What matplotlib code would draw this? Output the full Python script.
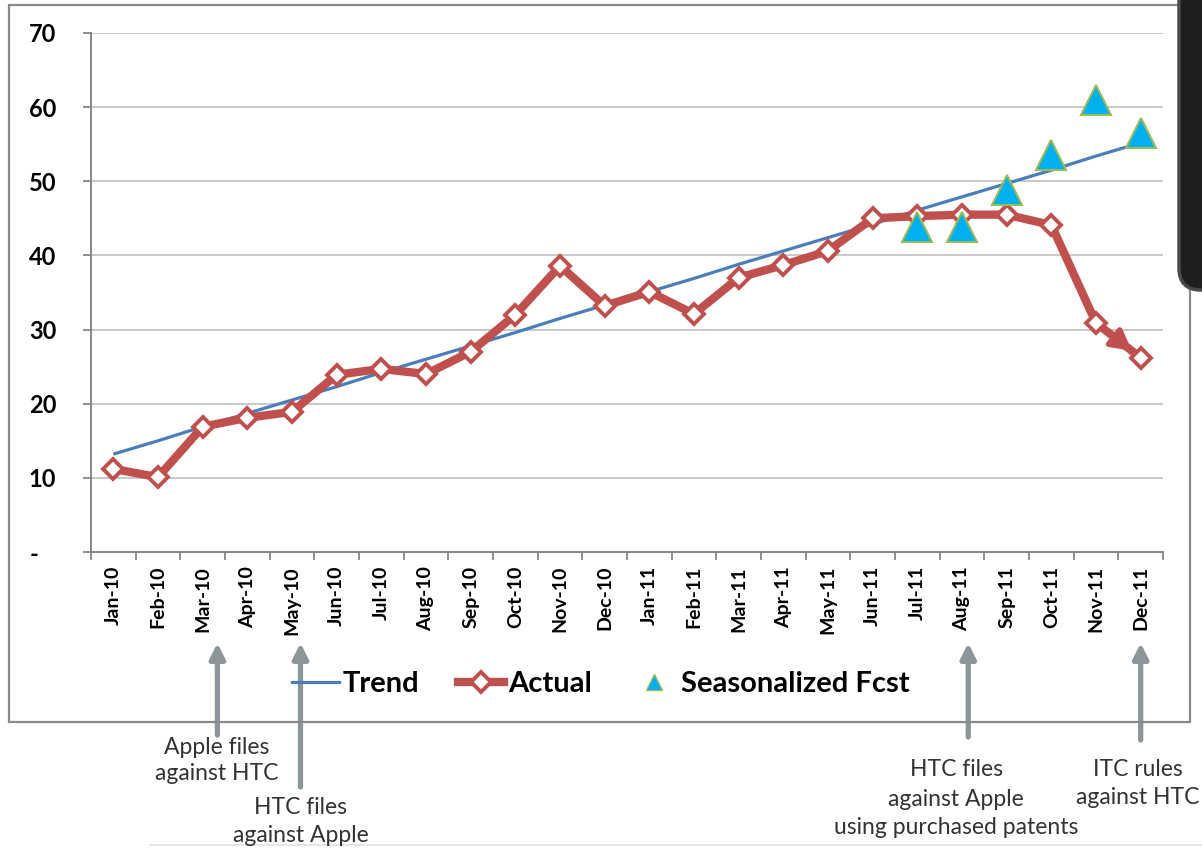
import numpy as np
import matplotlib
matplotlib.use("Agg")
import matplotlib.pyplot as plt
from matplotlib.lines import Line2D
from matplotlib.patches import Rectangle, FancyBboxPatch
import matplotlib.transforms as mtransforms

plt.rcParams['font.family'] = ['Lato', 'DejaVu Sans']

# ---------------- data ----------------
months = ['Jan-10', 'Feb-10', 'Mar-10', 'Apr-10', 'May-10', 'Jun-10', 'Jul-10',
          'Aug-10', 'Sep-10', 'Oct-10', 'Nov-10', 'Dec-10', 'Jan-11', 'Feb-11',
          'Mar-11', 'Apr-11', 'May-11', 'Jun-11', 'Jul-11', 'Aug-11', 'Sep-11',
          'Oct-11', 'Nov-11', 'Dec-11']
trend = [13.2, 15.0, 16.9, 18.7, 20.5, 22.3, 24.2, 26.0, 27.8, 29.6, 31.5, 33.3,
         35.1, 36.9, 38.8, 40.6, 42.4, 44.2, 46.1, 47.9, 49.7, 51.5, 53.4, 55.2]
actual = [11.2, 10.1, 16.9, 18.1, 18.9, 23.9, 24.7, 24.0, 27.0, 32.0, 38.6, 33.2,
          35.1, 32.1, 37.0, 38.7, 40.6, 45.0, 45.3, 45.5, 45.5, 44.1, 30.9, 26.2]
fcst_months = ['Jul-11', 'Aug-11', 'Sep-11', 'Oct-11', 'Nov-11', 'Dec-11']
fcst = [43.8, 43.8, 48.8, 53.5, 61.0, 56.5]
yticks = [0, 10, 20, 30, 40, 50, 60, 70]
ytick_labels = ['-   ', '10', '20', '30', '40', '50', '60', '70']
series_names = ['Trend', 'Actual', 'Seasonalized Fcst']
events = [('Mar-10', ['Apple files', 'against HTC']),
          ('May-10', ['HTC files', 'against Apple']),
          ('Aug-11', ['HTC files', 'against Apple', 'using purchased patents']),
          ('Dec-11', ['ITC rules', 'against HTC'])]

# ---------------- styles ----------------
BLUE = '#4A7EBB'
RED = '#C0504D'
TRI_FACE = '#00B0F0'
TRI_EDGE = '#9BBB59'
AXGRAY = '#868686'
GRID = '#c8c8c8'
ARROW = '#8C9698'
ANN_TXT = '#333333'

W, H = 1202, 849
fig = plt.figure(figsize=(W / 100, H / 100), dpi=100)


def px(x, y):
    return x / W, 1 - y / H


ax = fig.add_axes([91 / W, 1 - 552 / H, 1072 / W, 519 / H])
x = np.arange(len(months))
fx = [months.index(m) for m in fcst_months]

ax.plot(x, trend, color=BLUE, lw=2.3, zorder=2, solid_capstyle='butt')
ax.plot(x, actual, color=RED, lw=6, zorder=3, solid_joinstyle='round')
ax.annotate('', xy=(x[-1], actual[-1]), xytext=(x[-2], actual[-2]),
            arrowprops=dict(arrowstyle='-|>,head_length=1.2,head_width=0.65',
                            color=RED, lw=4, shrinkA=8, shrinkB=8,
                            mutation_scale=10),
            zorder=3.2)
ax.plot(x, actual, ls='none', marker='D', ms=10.5, mfc='white', mec=RED,
        mew=2.8, zorder=3.5)
ax.plot(fx, fcst, ls='none', marker='^', ms=21, mfc=TRI_FACE, mec=TRI_EDGE,
        mew=1.5, zorder=4)

ax.set_xlim(-0.5, len(months) - 0.5)
ax.set_ylim(0, 70)
ax.set_xticks(x)
ax.set_xticklabels(months, rotation=90, fontsize=14, fontweight='bold')
ax.set_xticks(np.arange(-0.5, len(months), 1), minor=True)
ax.tick_params(axis='x', which='major', length=0, pad=10)
ax.tick_params(axis='x', which='minor', length=6, color=AXGRAY, width=1.3,
               direction='out')
ax.set_yticks(yticks)
ax.set_yticklabels(ytick_labels, fontsize=17, fontweight='bold')
ax.tick_params(axis='y', length=6, color=AXGRAY, width=1.3, pad=19)
ax.grid(axis='y', color=GRID, lw=1.4)
ax.set_axisbelow(True)
for s in ['top', 'right']:
    ax.spines[s].set_visible(False)
for s in ['left', 'bottom']:
    ax.spines[s].set_color(AXGRAY)
    ax.spines[s].set_linewidth(1.4)

# legend
handles = [Line2D([], [], color=BLUE, lw=2.3),
           Line2D([], [], color=RED, lw=6, marker='D', ms=10, mfc='white',
                  mec=RED, mew=2.8),
           Line2D([], [], ls='none', marker='^', ms=12, mfc=TRI_FACE,
                  mec=TRI_EDGE, mew=1)]
fig.legend(handles, series_names, loc='center', bbox_to_anchor=px(601, 684),
           ncol=3, frameon=False,
           prop={'family': 'Lato', 'weight': 'bold', 'size': 21},
           handlelength=1.6, handletextpad=0.15, columnspacing=1.3)

# outer frame
fig.add_artist(Rectangle(px(9, 722), (1190 - 9) / W, (722 - 5) / H,
                         transform=fig.transFigure, fill=False, ec='#8a8a8a',
                         lw=1.6, zorder=1))

# event arrows and notes
blend = mtransforms.blended_transform_factory(ax.transData, fig.transFigure)
arrow_offsets = {'Mar-10': 0.33, 'May-10': 0.19, 'Aug-11': 0.14, 'Dec-11': 0.0}
arrow_tails = {'Mar-10': 735, 'May-10': 787, 'Aug-11': 737, 'Dec-11': 740}
text_pos = {'Mar-10': (217, [747, 773]),
            'May-10': (301, [808, 836]),
            'Aug-11': (956, [770, 799, 828]),
            'Dec-11': (1138, [769, 797])}
for m, lines in events:
    xd = months.index(m) + arrow_offsets[m]
    ax.annotate('', xy=(xd, 1 - 643 / H), xycoords=blend,
                xytext=(xd, 1 - arrow_tails[m] / H), textcoords=blend,
                arrowprops=dict(arrowstyle='-|>,head_length=0.9,head_width=0.45',
                                color=ARROW, lw=3.8, shrinkA=0, shrinkB=0,
                                mutation_scale=10),
                annotation_clip=False)
    cx, ys = text_pos[m]
    for line, yy in zip(lines, ys):
        fig.text(*px(cx, yy), line, ha='center', va='center', fontsize=16.5,
                 color=ANN_TXT, family='Lato')

# device edge at top right
fig.add_artist(FancyBboxPatch((11.79, (849 - 290) / 100), 1.0, 4.0,
                              boxstyle='round,pad=0,rounding_size=0.22',
                              transform=fig.dpi_scale_trans, fc='#1e1e1e',
                              ec='#4a4a4a', lw=2.5, zorder=5))
# faint line at bottom
fig.add_artist(Line2D([150 / W, 1.0], [1 - 845 / H, 1 - 845 / H],
                      transform=fig.transFigure, color='#e2e2e2', lw=1.2))

fig.savefig('out.png', dpi=100)
